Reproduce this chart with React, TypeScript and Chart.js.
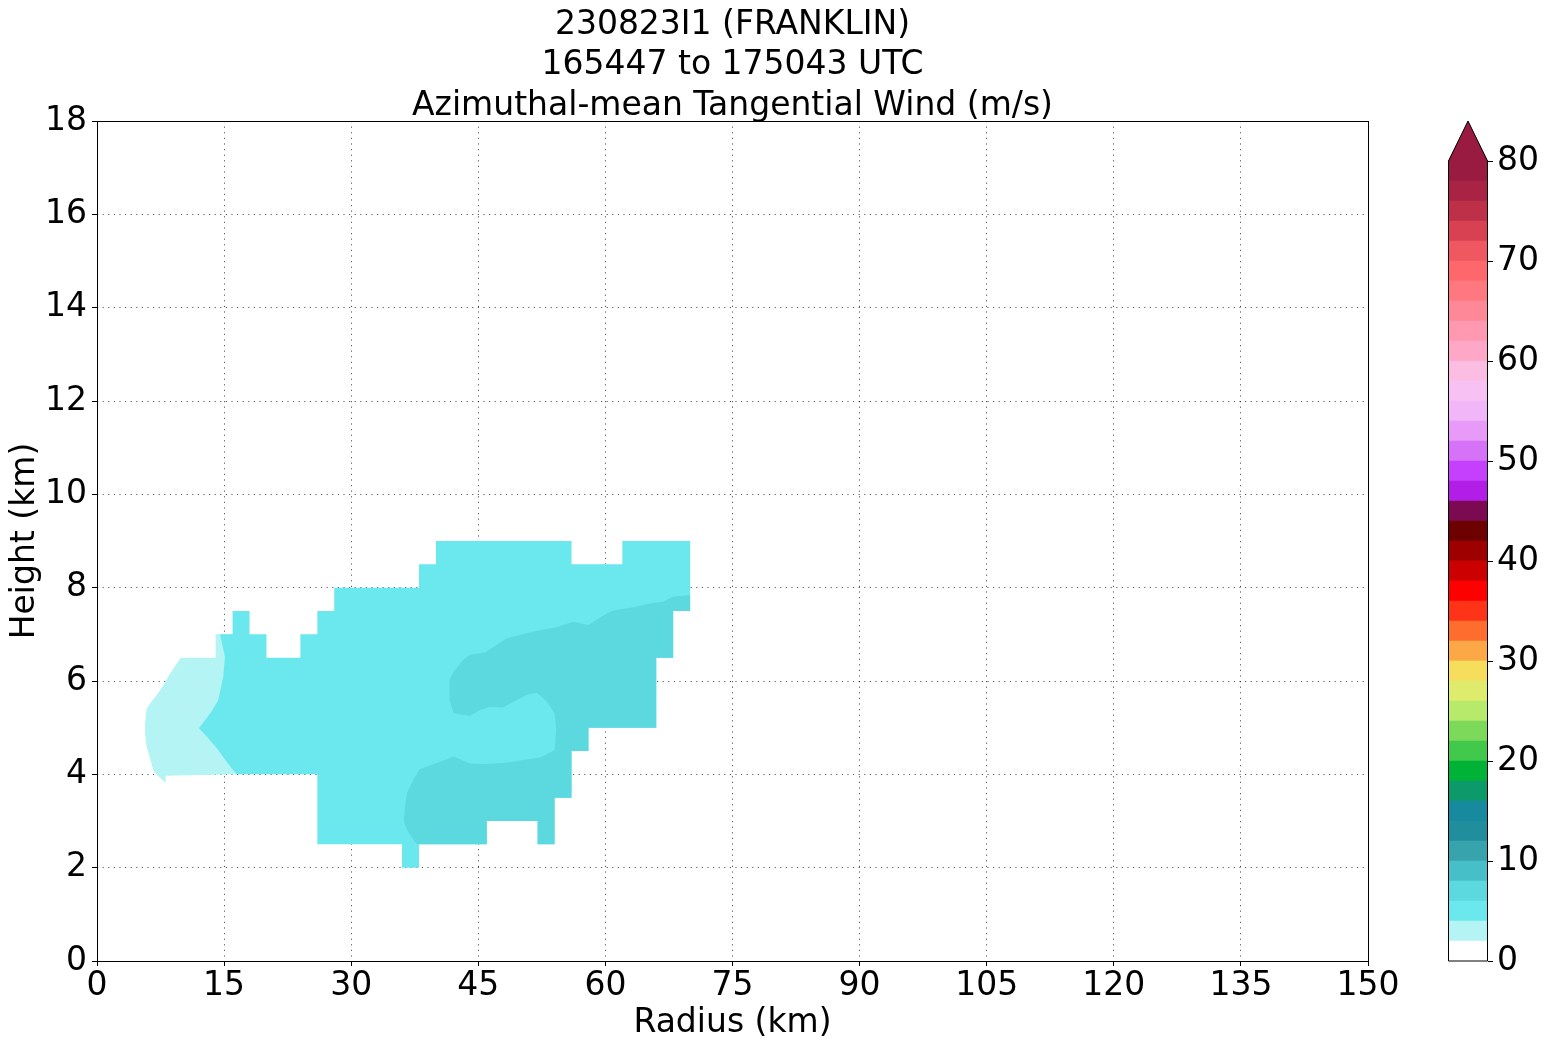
import React, { useEffect, useRef } from 'react';
import { Chart, registerables } from 'chart.js';

Chart.register(...registerables);

// ---------------- text ----------------
const TITLE_LINES = ['230823I1 (FRANKLIN)', '165447 to 175043 UTC', 'Azimuthal-mean Tangential Wind (m/s)'];
const X_LABEL = 'Radius (km)';
const Y_LABEL = 'Height (km)';

// ---------------- axes ----------------
const X_MIN = 0;
const X_MAX = 150;
const X_STEP = 15;
const Y_MIN = 0;
const Y_MAX = 18;
const Y_STEP = 2;
const CB_STEP = 10;

// ---------------- contour levels (m/s) and colours ----------------
const LEVELS = [0, 2, 4, 6, 8, 10, 12, 14, 16, 18, 20, 22, 24, 26, 28, 30, 32, 34, 36, 38, 40,
  42, 44, 46, 48, 50, 52, 54, 56, 58, 60, 62, 64, 66, 68, 70, 72, 74, 76, 78, 80];
const LEVEL_COLORS = [
  '#ffffff', '#b4f4f4', '#6ae8ed', '#5cd9de', '#47bfc9', '#37a3ad', '#218e9e', '#178a9f',
  '#0c9a6a', '#00b235', '#42c94b', '#7cd95a', '#b7e96b', '#dfeb6c', '#f6dd5c', '#fda847',
  '#ff6d2e', '#ff3318', '#fe0000', '#cd0000', '#9e0000', '#6d0000', '#7b0a53', '#b21ee8',
  '#c540fc', '#d672f7', '#e79af7', '#f0b6f8', '#f7c2f3', '#fbbde2', '#fea7c6', '#ff98b0',
  '#ff8898', '#ff787f', '#fe686d', '#ef5860', '#d84152', '#bd3048', '#a92444', '#9a1b42',
];
const EXTEND_COLOR = '#9a1b42';

// ---------------- filled contour regions: [radius km, height km] ----------------
// 2-4 m/s band (drawn underneath)
const WIND_2_4: [number, number][] = [
  [9.9, 6.5], [14.0, 6.5], [14.0, 7.0], [16.0, 7.0], [16.5, 4.0], [8.1, 3.97], [8.1, 3.82],
  [7.04, 3.99], [6.65, 4.09], [6.26, 4.34], [5.86, 4.59], [5.67, 4.88], [5.67, 5.09],
  [5.86, 5.41], [6.26, 5.52], [7.04, 5.7], [7.83, 5.91], [8.62, 6.16], [9.9, 6.5],
];

// 4-6 m/s band (outer envelope of the >= 4 m/s area)
const WIND_4_6: [number, number][] = [
  [16.5, 4.0], [16.2, 4.06], [15.3, 4.27], [14.3, 4.52], [13.3, 4.74], [12.04, 4.99],
  [13.5, 5.34], [14.3, 5.59], [14.9, 6.09], [15.1, 6.52], [14.52, 7.0],
  [16, 7], [16, 7.5], [18, 7.5], [18, 7], [20, 7], [20, 6.5], [24, 6.5], [24, 7], [26, 7],
  [26, 7.5], [28, 7.5], [28, 8], [38, 8], [38, 8.5], [40, 8.5], [40, 9], [56, 9], [56, 8.5],
  [62, 8.5], [62, 9], [70, 9], [70, 7.5], [68, 7.5], [68, 6.5], [66, 6.5], [66, 5], [58, 5],
  [58, 4.5], [56, 4.5], [56, 3.5], [54, 3.5], [54, 2.5], [52, 2.5], [52, 3], [46, 3],
  [46, 2.5], [38, 2.5], [38, 2], [36, 2], [36, 2.5], [26, 2.5], [26, 4], [16.5, 4.0],
];

// 6-8 m/s band
const WIND_6_8: [number, number][] = [
  [70, 7.84], [68.0, 7.81], [66.8, 7.70], [65.3, 7.66], [63.3, 7.58], [60.9, 7.51],
  [59.8, 7.41], [58.0, 7.2], [56.2, 7.27], [54.2, 7.15], [51.5, 7.06], [48.3, 6.91],
  [46.8, 6.73], [45.8, 6.61], [44.0, 6.56], [43.2, 6.45], [42.1, 6.2], [41.6, 6.02],
  [41.6, 5.59], [42.1, 5.31], [44.0, 5.25], [45.2, 5.38], [46.4, 5.45], [47.9, 5.43],
  [49.5, 5.59], [50.7, 5.7], [51.9, 5.75], [53.1, 5.56], [54.0, 5.31], [54.2, 4.95],
  [54.0, 4.52], [52.3, 4.36], [50.7, 4.32], [48.3, 4.25], [45.6, 4.22], [44.0, 4.23],
  [42.1, 4.38], [40.5, 4.27], [38.1, 4.11], [37.3, 3.88], [36.6, 3.6], [36.4, 3.38],
  [36.2, 3.0], [36.7, 2.77], [37.5, 2.56], [37.8, 2.5], [46, 2.5], [46, 3], [52, 3],
  [52, 2.5], [54, 2.5], [54, 3.5], [56, 3.5], [56, 4.5], [58, 4.5], [58, 5], [66, 5],
  [66, 6.5], [68, 6.5], [68, 7.5], [70, 7.5], [70, 7.84],
];

const REGIONS: { lower: number; points: [number, number][] }[] = [
  { lower: 6, points: WIND_6_8 },
  { lower: 4, points: WIND_4_6 },
  { lower: 2, points: WIND_2_4 },
];

const FONT = 'DejaVu Sans';
const FONT_SIZE = 33;

Chart.defaults.font.family = FONT;
Chart.defaults.color = '#000';

const framePlugin = {
  id: 'frame',
  afterDraw(chart: any) {
    const { ctx, chartArea } = chart;
    const l = Math.round(chartArea.left) + 0.5;
    const t = Math.round(chartArea.top) + 0.5;
    const r = Math.round(chartArea.right) + 0.5;
    const b = Math.round(chartArea.bottom) + 0.5;
    ctx.save();
    ctx.strokeStyle = '#000';
    ctx.lineWidth = 1;
    ctx.strokeRect(l, t, r - l, b - t);
    ctx.restore();
  },
};

const colorbarPlugin = {
  id: 'cbarExtend',
  afterDraw(chart: any) {
    const { ctx, chartArea } = chart;
    const y = chart.scales.y;
    const yTop = y.getPixelForValue(LEVELS[LEVELS.length - 1]);
    const yBot = y.getPixelForValue(LEVELS[0]);
    const tip = yTop - (yBot - yTop) * 0.05;
    const left = chartArea.left;
    const right = chartArea.right;
    const mid = (left + right) / 2;
    ctx.save();
    ctx.fillStyle = EXTEND_COLOR;
    ctx.beginPath();
    ctx.moveTo(left, yTop + 0.5);
    ctx.lineTo(mid, tip);
    ctx.lineTo(right, yTop + 0.5);
    ctx.closePath();
    ctx.fill();
    ctx.strokeStyle = '#000';
    ctx.lineWidth = 1;
    ctx.beginPath();
    ctx.moveTo(left + 0.5, yBot);
    ctx.lineTo(left + 0.5, yTop);
    ctx.lineTo(mid, tip);
    ctx.lineTo(right - 0.5, yTop);
    ctx.lineTo(right - 0.5, yBot);
    ctx.closePath();
    ctx.stroke();
    ctx.restore();
  },
};

export default function App() {
  const mainRef = useRef<HTMLCanvasElement>(null);
  const barRef = useRef<HTMLCanvasElement>(null);

  useEffect(() => {
    const tickFont = { family: FONT, size: FONT_SIZE };
    const main = new Chart(mainRef.current as HTMLCanvasElement, {
      type: 'scatter',
      data: {
        datasets: REGIONS.map((r) => ({
          label: `${r.lower}-${r.lower + 2}`,
          data: r.points.map(([x, y]) => ({ x, y })),
          showLine: true,
          fill: 'shape',
          backgroundColor: LEVEL_COLORS[LEVELS.indexOf(r.lower)],
          borderWidth: 0,
          pointRadius: 0,
          tension: 0,
        })),
      },
      options: {
        animation: false,
        responsive: false,
        devicePixelRatio: 1,
        layout: { padding: { left: 0, right: 97, top: 0, bottom: 0 } },
        plugins: {
          legend: { display: false },
          tooltip: { enabled: false },
          title: {
            display: true,
            fullSize: false,
            text: TITLE_LINES,
            color: '#000',
            font: { family: FONT, size: FONT_SIZE, weight: 'normal', lineHeight: 1.22 },
            padding: { top: 5.5, bottom: -5.28 },
          },
        },
        scales: {
          x: {
            type: 'linear',
            min: X_MIN,
            max: X_MAX,
            z: 1,
            ticks: { stepSize: X_STEP, font: tickFont, color: '#000', padding: 1, maxRotation: 0, autoSkip: false },
            grid: { color: 'rgba(0,0,0,0.65)', lineWidth: 1, drawTicks: true, tickLength: 5, tickColor: '#000', tickWidth: 1 },
            border: { display: false, dash: [1.2, 4.4] },
            title: { display: true, text: X_LABEL, color: '#000', font: tickFont, padding: { top: 0, bottom: 2 } },
            afterFit: (s: any) => { s.height = 84; },
          },
          y: {
            type: 'linear',
            min: Y_MIN,
            max: Y_MAX,
            z: 1,
            ticks: { stepSize: Y_STEP, font: tickFont, color: '#000', padding: 5, autoSkip: false },
            grid: { color: 'rgba(0,0,0,0.65)', lineWidth: 1, drawTicks: true, tickLength: 5, tickColor: '#000', tickWidth: 1 },
            border: { display: false, dash: [1.2, 4.4] },
            title: { display: true, text: Y_LABEL, color: '#000', font: tickFont, padding: { top: 6, bottom: 0 } },
            afterFit: (s: any) => { s.width = 97; },
          },
        },
      } as any,
      plugins: [framePlugin],
    });

    const bar = new Chart(barRef.current as HTMLCanvasElement, {
      type: 'bar',
      data: {
        labels: [''],
        datasets: LEVEL_COLORS.map((c, i) => ({
          label: `${LEVELS[i]}-${LEVELS[i + 1]}`,
          data: [[LEVELS[i], LEVELS[i + 1]]] as any,
          backgroundColor: c,
          borderWidth: 0,
          barPercentage: 1,
          categoryPercentage: 1,
          grouped: false,
        })),
      },
      options: {
        animation: false,
        responsive: false,
        devicePixelRatio: 1,
        layout: { padding: { left: 48, right: 0, top: 161, bottom: 84 } },
        plugins: { legend: { display: false }, tooltip: { enabled: false } },
        scales: {
          x: { display: false },
          y: {
            position: 'right',
            min: LEVELS[0],
            max: LEVELS[LEVELS.length - 1],
            ticks: { stepSize: CB_STEP, font: tickFont, color: '#000', padding: 4 },
            grid: { drawOnChartArea: false, drawTicks: true, tickLength: 5, tickColor: '#000' },
            border: { display: false },
            afterFit: (s: any) => { s.width = 60; },
          },
        },
      } as any,
      plugins: [colorbarPlugin],
    });

    return () => {
      main.destroy();
      bar.destroy();
    };
  }, []);

  return (
    <div style={{ position: 'absolute', left: 0, top: 0, width: 1548, height: 1045, background: '#fff' }}>
      <canvas ref={mainRef} width={1465} height={1045} style={{ position: 'absolute', left: 0, top: 0 }} />
      <canvas ref={barRef} width={148} height={1045} style={{ position: 'absolute', left: 1400, top: 0 }} />
    </div>
  );
}
